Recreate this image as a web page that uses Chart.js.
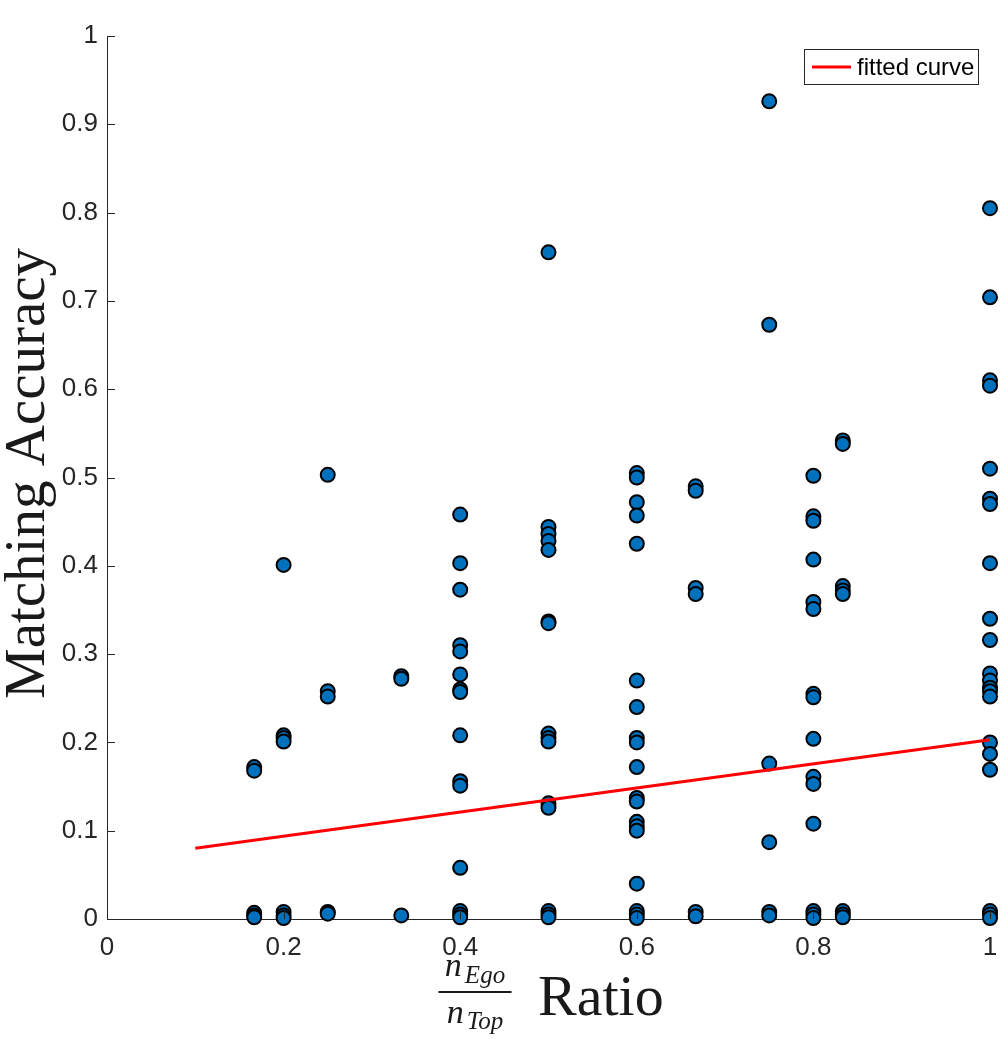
<!DOCTYPE html>
<html lang="en">
<head>
<meta charset="UTF-8">
<title>Matching Accuracy vs Ratio</title>
<script src="https://cdn.jsdelivr.net/npm/chart.js@4.4.1/dist/chart.umd.min.js"></script>
<style>
  html, body { margin:0; padding:0; background:#fff; }
  #wrap { width:1002px; height:1039px; position:relative; }
</style>
</head>
<body>
<div id="wrap"><canvas id="acc_chart"></canvas></div>
<script>
// n_Ego / n_Top ratio of each column of points
const ratios = [0.1667, 0.2, 0.25, 0.3333, 0.4, 0.5, 0.6, 0.6667, 0.75, 0.8, 0.8333, 1.0];
// matching accuracy values read per ratio column
const accuracy = [
  [0.172, 0.168, 0.007, 0.004, 0.002],
  [0.401, 0.208, 0.205, 0.201, 0.008, 0.004, 0.001],
  [0.503, 0.258, 0.252, 0.008, 0.006],
  [0.275, 0.272, 0.004],
  [0.458, 0.403, 0.373, 0.310, 0.303, 0.277, 0.260, 0.257, 0.208, 0.156, 0.151, 0.058, 0.009, 0.005, 0.002],
  [0.755, 0.444, 0.436, 0.428, 0.418, 0.337, 0.335, 0.210, 0.205, 0.201, 0.131, 0.126, 0.009, 0.005, 0.002],
  [0.505, 0.500, 0.472, 0.457, 0.425, 0.270, 0.240, 0.205, 0.200, 0.172, 0.137, 0.133, 0.110, 0.105, 0.100, 0.040, 0.009, 0.005, 0.001],
  [0.490, 0.485, 0.375, 0.368, 0.008, 0.003],
  [0.926, 0.673, 0.176, 0.087, 0.008, 0.004],
  [0.502, 0.456, 0.451, 0.407, 0.359, 0.351, 0.255, 0.251, 0.204, 0.161, 0.153, 0.108, 0.009, 0.005, 0.001],
  [0.542, 0.538, 0.377, 0.372, 0.368, 0.009, 0.005, 0.002],
  [0.805, 0.704, 0.610, 0.604, 0.510, 0.476, 0.470, 0.403, 0.340, 0.316, 0.278, 0.270, 0.262, 0.258, 0.252, 0.200, 0.187, 0.169, 0.009, 0.005, 0.001]
];
// fitted curve end points
const fitX = [0.1, 1.0];
const fitY = [0.080, 0.203];
// tick labels
const xTicks = [0, 0.2, 0.4, 0.6, 0.8, 1];
const yTicks = [0, 0.1, 0.2, 0.3, 0.4, 0.5, 0.6, 0.7, 0.8, 0.9, 1];

let scatterPts = [];
ratios.forEach((r, i) => {
  accuracy[i].forEach(v => scatterPts.push({x: r, y: v}));
});
let fitPts = fitX.map((v, i) => ({x: v, y: fitY[i]}));

const axisColor = '#262626';

//inward ticks, axis titles and legend box
const decor = {
  id: 'decor',
  afterDraw(chart) {
    const ctx = chart.ctx;
    const a = chart.chartArea;
    const sx = chart.scales.x, sy = chart.scales.y;
    ctx.save();
    ctx.strokeStyle = axisColor;
    ctx.lineWidth = 1;
    ctx.beginPath();
    sx.ticks.forEach(t => {
      const px = Math.round(sx.getPixelForValue(t.value)) + 0.5;
      ctx.moveTo(px, a.bottom); ctx.lineTo(px, a.bottom - 8);
    });
    sy.ticks.forEach(t => {
      const py = Math.round(sy.getPixelForValue(t.value)) + 0.5;
      ctx.moveTo(a.left, py); ctx.lineTo(a.left + 8, py);
    });
    ctx.stroke();

    ctx.fillStyle = '#1a1a1a';
    // y title
    ctx.save();
    ctx.translate(44, (a.top + a.bottom) / 2 - 4);
    ctx.rotate(-Math.PI / 2);
    ctx.font = '57px "Liberation Serif"';
    ctx.textAlign = 'center';
    ctx.textBaseline = 'alphabetic';
    ctx.fillText('Matching Accuracy', 0, 0);
    ctx.restore();

    // x title: n_Ego / n_Top  Ratio
    const cx = (a.left + a.right) / 2;
    const barL = cx - 110, barR = cx - 37, barC = (barL + barR) / 2;
    ctx.textAlign = 'left';
    ctx.textBaseline = 'alphabetic';
    function frac(sub, base, subBase) {
      ctx.font = 'italic 34px "Liberation Serif"';
      const wn = ctx.measureText('n').width;
      ctx.font = 'italic 25px "Liberation Serif"';
      const ws = ctx.measureText(sub).width;
      const x0 = barC - (wn + 3 + ws) / 2;
      ctx.font = 'italic 34px "Liberation Serif"';
      ctx.fillText('n', x0, base);
      ctx.font = 'italic 25px "Liberation Serif"';
      ctx.fillText(sub, x0 + wn + 3, subBase);
    }
    frac('Ego', a.bottom + 57, a.bottom + 64);
    frac('Top', a.bottom + 104, a.bottom + 110);
    ctx.fillRect(barL, a.bottom + 72, barR - barL, 2);
    ctx.font = '58px "Liberation Serif"';
    ctx.fillText('Ratio', cx - 10.5, a.bottom + 96);

    // legend
    const ds = chart.data.datasets[0];
    const bx = a.right - 186, by = a.top + 13, bw = 174, bh = 35;
    ctx.fillStyle = '#fff';
    ctx.fillRect(bx, by, bw, bh);
    ctx.strokeStyle = axisColor;
    ctx.lineWidth = 1;
    ctx.strokeRect(bx + 0.5, by + 0.5, bw, bh);
    ctx.strokeStyle = ds.borderColor;
    ctx.lineWidth = ds.borderWidth;
    ctx.beginPath();
    ctx.moveTo(bx + 8, by + 18); ctx.lineTo(bx + 47, by + 18);
    ctx.stroke();
    ctx.fillStyle = '#000';
    ctx.font = '24px "Liberation Sans"';
    ctx.textBaseline = 'middle';
    ctx.fillText(ds.label, bx + 53, by + 19);
    ctx.restore();
  }
};

Chart.defaults.font.family = '"Liberation Sans", Arial, sans-serif';
Chart.defaults.color = axisColor;

let accChart = new Chart(document.getElementById('acc_chart'), {
  type: 'scatter',
  data: {
    datasets: [{
      type: 'line',
      label: 'fitted curve',
      data: fitPts,
      borderColor: '#ff0000',
      borderWidth: 3,
      pointRadius: 0,
      fill: false,
      clip: false
    }, {
      label: 'data',
      data: scatterPts,
      backgroundColor: '#0072BD',
      borderColor: '#000000',
      borderWidth: 2,
      pointRadius: 7,
      pointHoverRadius: 7,
      clip: false
    }]
  },
  options: {
    responsive: true,
    maintainAspectRatio: false,
    animation: false,
    layout: {padding: {top: 36, right: 12, left: 0, bottom: 0}},
    plugins: {legend: {display: false}, tooltip: {enabled: false}},
    scales: {
      x: {
        type: 'linear', min: 0, max: 1,
        afterBuildTicks: s => { s.ticks = xTicks.map(v => ({value: v})); },
        afterFit: s => { s.height = 120; s.paddingLeft = 0; s.paddingRight = 0; },
        grid: {display: false, drawTicks: false},
        border: {display: true, color: axisColor, width: 1},
        ticks: {font: {size: 26}, color: axisColor, padding: 13,
                maxRotation: 0, autoSkip: false,
                callback: v => String(+v.toFixed(1))}
      },
      y: {
        type: 'linear', min: 0, max: 1,
        afterBuildTicks: s => { s.ticks = yTicks.map(v => ({value: v})); },
        afterFit: s => { s.width = 107; s.paddingTop = 0; s.paddingBottom = 0; },
        grid: {display: false, drawTicks: false},
        border: {display: true, color: axisColor, width: 1},
        ticks: {font: {size: 26}, color: axisColor, padding: 9,
                autoSkip: false,
                callback: v => String(+v.toFixed(1))}
      }
    }
  },
  plugins: [decor]
});
</script>
</body>
</html>
